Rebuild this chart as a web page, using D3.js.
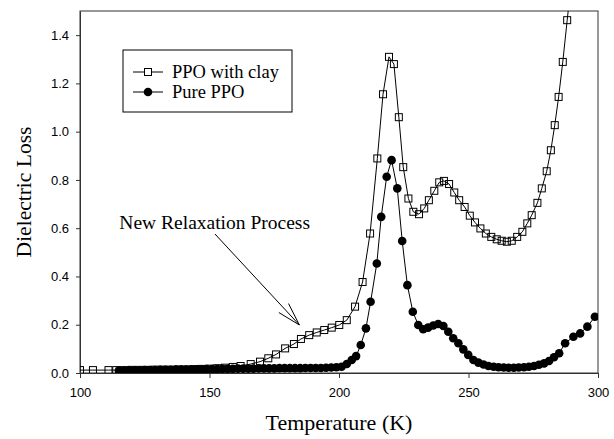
<!DOCTYPE html>
<html><head><meta charset="utf-8">
<script src="https://cdn.jsdelivr.net/npm/d3@7"></script>
<style>html,body{margin:0;padding:0;background:#fff;}svg{display:block;}</style>
</head><body>
<svg id="chart" width="614" height="439"></svg>
<script>
// ---- data ----
const clayT = [100,105,111,114,117,120,123,126,129,132,135,138,141,144,147,150,153,156,159,162,165.9,169.5,172.7,175.7,179.2,182.6,185.3,188.5,191.4,194.3,197.2,200.1,203,206.2,209.1,212,214.8,217,219.3,221.2,223.1,224.8,226.8,228.7,230.9,232.9,234.7,236.8,238.7,240.5,242.5,244.5,246.4,248.5,250.5,252.5,254.6,256.7,258.8,260.9,262.8,264.8,266.7,268.8,270.8,272.7,274.4,276.6,278.3,280.2,281.8,283.3,284.8,286.4,288.1,290];
const clayLoss = [0.012,0.012,0.012,0.012,0.012,0.013,0.013,0.013,0.014,0.014,0.014,0.015,0.015,0.016,0.017,0.018,0.020,0.022,0.025,0.029,0.037,0.047,0.061,0.077,0.102,0.120,0.141,0.157,0.168,0.178,0.188,0.199,0.219,0.275,0.377,0.578,0.889,1.155,1.310,1.280,1.060,0.853,0.723,0.668,0.658,0.682,0.716,0.755,0.790,0.796,0.783,0.748,0.716,0.688,0.652,0.624,0.599,0.578,0.564,0.554,0.548,0.544,0.548,0.564,0.585,0.620,0.654,0.705,0.765,0.836,0.923,1.027,1.144,1.289,1.462,1.650];
const pureT = [115,117,119,121,123,125,127,129,131,133,135,137,139,141,143,145,147,149,151,153,155,157,159,161,163,165,167,169,171,173,175,177,179,181,183,185,187,189,191,193,195,197,199,201,203,204.9,206.6,208.4,210.4,212.2,214.6,216.3,218.4,220.3,222.5,224.4,226.4,228.5,230.6,232.5,234.4,236.4,238.3,240.3,242.2,244.1,246.1,248,249.9,251.9,253.8,255.8,257.7,259.7,261.6,263.6,265.5,267.5,269.4,271.4,273.3,275.3,277.2,279.2,281.1,283,285,287.3,290.5,293.1,295.9,298.8];
const pureLoss = [0.010,0.010,0.011,0.011,0.011,0.012,0.012,0.012,0.013,0.013,0.013,0.014,0.014,0.014,0.015,0.015,0.015,0.016,0.016,0.016,0.017,0.017,0.017,0.018,0.018,0.018,0.018,0.019,0.019,0.019,0.019,0.020,0.020,0.020,0.020,0.020,0.021,0.021,0.021,0.021,0.022,0.023,0.024,0.026,0.037,0.054,0.070,0.116,0.185,0.295,0.454,0.647,0.813,0.882,0.765,0.547,0.364,0.254,0.199,0.181,0.188,0.197,0.203,0.195,0.171,0.144,0.123,0.098,0.075,0.054,0.043,0.035,0.029,0.026,0.024,0.023,0.022,0.022,0.023,0.024,0.026,0.029,0.034,0.040,0.050,0.065,0.082,0.123,0.150,0.164,0.192,0.233];
const xTicks = [100,150,200,250,300];
const yTicks = [0.0,0.2,0.4,0.6,0.8,1.0,1.2,1.4];
const seriesNames = ["PPO with clay","Pure PPO"];
const annotationText = "New Relaxation Process";
const annotationAnchor = {textT:115.2, textV:0.595, startT:152.1, startV:0.576, tipT:184.7, tipV:0.199};

// ---- layout ----
const L = 80, R = 598, T = 11, B = 373;
const svg = d3.select("#chart");
const x = d3.scaleLinear().domain([100,300]).range([L,R]);
const y = d3.scaleLinear().domain([0,1.5]).range([B,T]);
const serif = "'Liberation Serif','Times New Roman',serif";
const sans = "'Liberation Sans',Arial,sans-serif";

svg.append("defs").append("clipPath").attr("id","clip")
  .append("rect").attr("x",L).attr("y",T).attr("width",R-L).attr("height",B-T);

// frame
svg.append("rect").attr("x",L).attr("y",T).attr("width",R-L).attr("height",B-T)
  .attr("fill","none").attr("stroke","#333").attr("stroke-width",1);

// axes
const xAxis = svg.append("g").attr("transform",`translate(0,${B})`)
  .call(d3.axisBottom(x).tickValues(xTicks).tickSize(5).tickSizeOuter(0).tickFormat(d3.format("d")));
const yAxis = svg.append("g").attr("transform",`translate(${L},0)`)
  .call(d3.axisLeft(y).tickValues(yTicks).tickSize(4).tickSizeOuter(0).tickFormat(d3.format(".1f")));
[xAxis,yAxis].forEach(a=>{
  a.select(".domain").attr("stroke","#333");
  a.selectAll(".tick line").attr("stroke","#333");
  a.selectAll(".tick text").attr("font-family",sans).attr("font-size",13).attr("fill","#000");
});
xAxis.selectAll(".tick text").attr("dy","0.71em").attr("y",15);
yAxis.selectAll(".tick text").attr("x",-11);

// axis titles
svg.append("text").attr("x",(L+R)/2).attr("y",430).attr("text-anchor","middle")
  .attr("font-family",serif).attr("font-size",22).text("Temperature (K)");
svg.append("text").attr("transform",`translate(31,${(T+B)/2}) rotate(-90)`).attr("text-anchor","middle")
  .attr("font-family",serif).attr("font-size",21.5).text("Dielectric Loss");

// series
const plot = svg.append("g").attr("clip-path","url(#clip)");
const clay = clayT.map((t,i)=>[t,clayLoss[i]]);
const pure = pureT.map((t,i)=>[t,pureLoss[i]]);
const line = d3.line().x(d=>x(d[0])).y(d=>y(d[1]));
const sq = 7, rad = 4.3;

plot.append("path").datum(clay).attr("d",line).attr("fill","none").attr("stroke","#000").attr("stroke-width",1);
plot.selectAll("rect.clay").data(clay).join("rect").attr("class","clay")
  .attr("x",d=>x(d[0])-sq/2).attr("y",d=>y(d[1])-sq/2).attr("width",sq).attr("height",sq)
  .attr("fill","none").attr("stroke","#000").attr("stroke-width",1);

plot.append("path").datum(pure).attr("d",line).attr("fill","none").attr("stroke","#000").attr("stroke-width",1);
plot.selectAll("circle.pure").data(pure).join("circle").attr("class","pure")
  .attr("cx",d=>x(d[0])).attr("cy",d=>y(d[1])).attr("r",rad).attr("fill","#000");

// legend
const lg = svg.append("g");
lg.append("rect").attr("x",123).attr("y",50).attr("width",169).attr("height",62)
  .attr("fill","#fff").attr("stroke","#000").attr("stroke-width",1);
[72,92].forEach((yy,i)=>{
  lg.append("line").attr("x1",133).attr("x2",163).attr("y1",yy).attr("y2",yy).attr("stroke","#000");
  if(i===0){
    lg.append("rect").attr("x",148-sq/2).attr("y",yy-sq/2).attr("width",sq).attr("height",sq)
      .attr("fill","#fff").attr("stroke","#000");
  } else {
    lg.append("circle").attr("cx",148).attr("cy",yy).attr("r",rad).attr("fill","#000");
  }
  lg.append("text").attr("x",172).attr("y",yy+6).attr("font-family",serif).attr("font-size",18.5)
    .text(seriesNames[i]);
});

// annotation
const a = annotationAnchor;
svg.append("text").attr("x",x(a.textT)).attr("y",y(a.textV)).attr("font-family",serif).attr("font-size",19.5)
  .text(annotationText);
const sx=x(a.startT), sy=y(a.startV), tx=x(a.tipT), ty=y(a.tipV);
svg.append("line").attr("x1",sx).attr("y1",sy).attr("x2",tx).attr("y2",ty).attr("stroke","#000").attr("stroke-width",1);
const ang = Math.atan2(sy-ty, sx-tx), hl = 24, ha = 16*Math.PI/180;
[ang-ha, ang+ha].forEach(an=>{
  svg.append("line").attr("x1",tx).attr("y1",ty).attr("x2",tx+hl*Math.cos(an)).attr("y2",ty+hl*Math.sin(an))
    .attr("stroke","#000").attr("stroke-width",1);
});
</script>
</body></html>
